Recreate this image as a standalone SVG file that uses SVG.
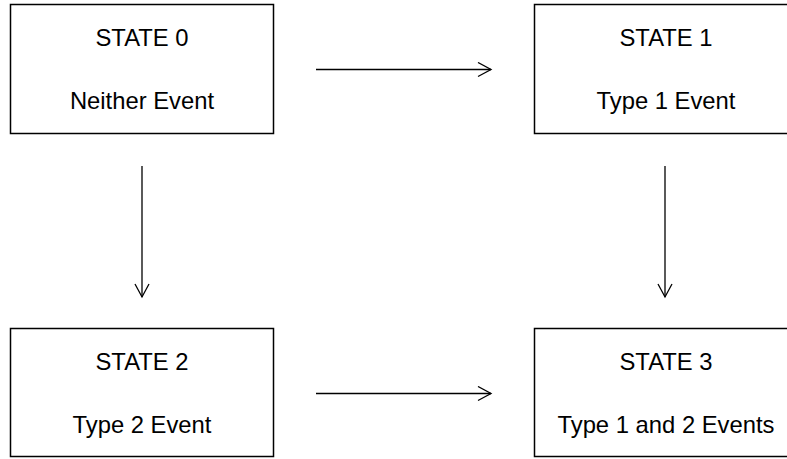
<svg xmlns="http://www.w3.org/2000/svg" width="787" height="459" viewBox="0 0 787 459">
<style>
.box{fill:#fff;stroke:#000;stroke-width:1.5}
.t{font-family:"Liberation Sans",Arial,sans-serif;font-size:23.8px;fill:#000;text-anchor:middle}
.c{stroke:#000;stroke-width:1.3;fill:none}
</style>
<defs>
<marker id="a" markerWidth="16" markerHeight="16" viewBox="-14 -8 16 16" refX="0" refY="0" orient="auto" markerUnits="userSpaceOnUse">
<path d="M-13,-7 L0,0 L-13,7" fill="none" stroke="#000" stroke-width="1.3"/>
</marker>
</defs>
<rect width="787" height="459" fill="#fff"/>
<g id="state0">
<rect class="box" x="10.5" y="4.5" width="263" height="129"/>
<text class="t" x="142" y="46">STATE 0</text>
<text class="t" x="142" y="109">Neither Event</text>
</g>
<g id="state1">
<rect class="box" x="534.5" y="4.5" width="263" height="129"/>
<text class="t" x="666" y="46">STATE 1</text>
<text class="t" x="666" y="109">Type 1 Event</text>
</g>
<g id="state2">
<rect class="box" x="10.5" y="328.5" width="263" height="128"/>
<text class="t" x="142" y="370">STATE 2</text>
<text class="t" x="142" y="433">Type 2 Event</text>
</g>
<g id="state3">
<rect class="box" x="534.5" y="328.5" width="263" height="128"/>
<text class="t" x="666" y="370">STATE 3</text>
<text class="t" x="666" y="433">Type 1 and 2 Events</text>
</g>
<g id="connectors">
<line class="c" x1="316" y1="69.5" x2="491" y2="69.5" marker-end="url(#a)"/>
<line class="c" x1="142" y1="166" x2="142" y2="297" marker-end="url(#a)"/>
<line class="c" x1="665" y1="166" x2="665" y2="297" marker-end="url(#a)"/>
<line class="c" x1="316" y1="393.5" x2="491" y2="393.5" marker-end="url(#a)"/>
</g>
</svg>
